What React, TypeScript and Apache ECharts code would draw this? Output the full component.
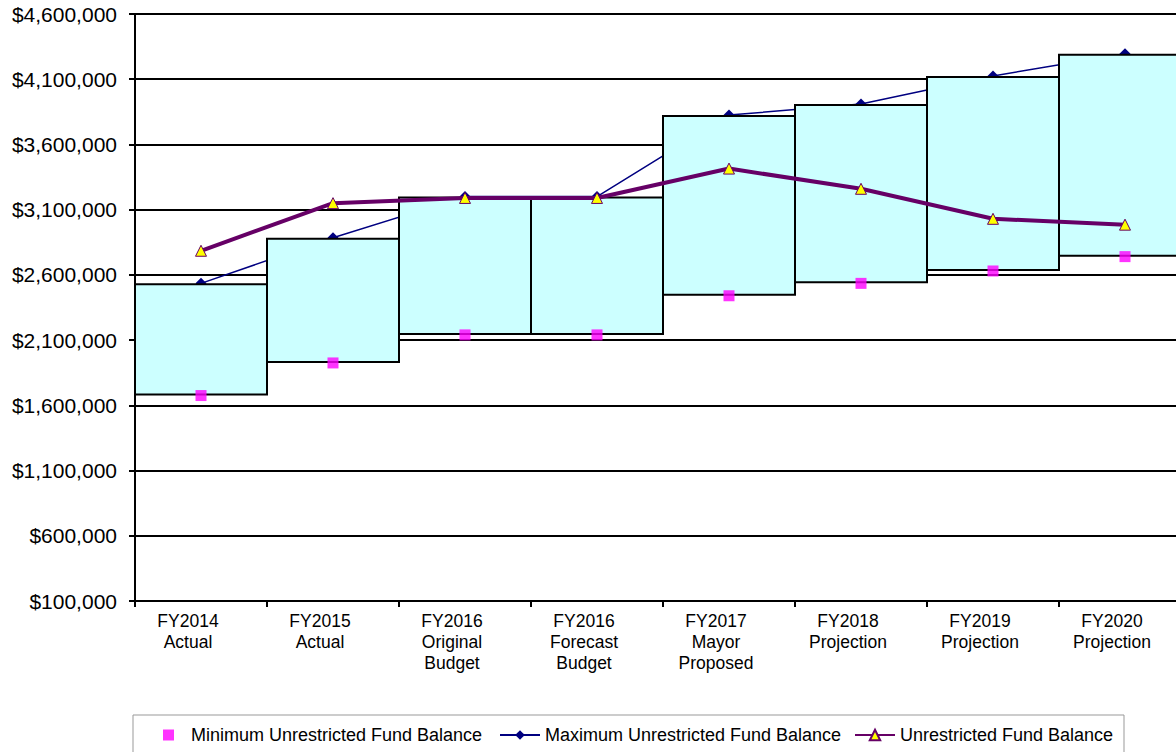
import React, { useEffect, useRef } from "react";
import * as echarts from "echarts";

const categories = [
  "FY2014\nActual",
  "FY2015\nActual",
  "FY2016\nOriginal\nBudget",
  "FY2016\nForecast\nBudget",
  "FY2017\nMayor\nProposed",
  "FY2018\nProjection",
  "FY2019\nProjection",
  "FY2020\nProjection",
];
const minBalance = [1675000, 1925000, 2140000, 2140000, 2440000, 2535000, 2630000, 2740000];
const maxBalance = [2535000, 2885000, 3200000, 3200000, 3825000, 3910000, 4125000, 4295000];
const unrestricted = [2785000, 3150000, 3190000, 3190000, 3415000, 3260000, 3030000, 2985000];

const MIN_NAME = "Minimum Unrestricted Fund Balance";
const MAX_NAME = "Maximum Unrestricted Fund Balance";
const UNR_NAME = "Unrestricted Fund Balance";

const FONT = "Liberation Sans, Arial, sans-serif";

function fmt(v: number): string {
  return "$" + String(v).replace(/\B(?=(\d{3})+(?!\d))/g, ",");
}

export default function App() {
  const ref = useRef<HTMLDivElement>(null);
  useEffect(() => {
    if (!ref.current) return;
    const chart = echarts.init(ref.current, undefined, { renderer: "svg" });
    const boxHeights = maxBalance.map((m, i) => m - minBalance[i]);
    chart.setOption({
      animation: false,
      backgroundColor: "#ffffff",
      textStyle: { fontFamily: FONT },
      grid: {
        left: 135,
        top: 14,
        width: 1056,
        height: 587,
        containLabel: false,
        outerBoundsMode: "none",
      },
      xAxis: {
        type: "category",
        data: categories,
        boundaryGap: true,
        axisLine: { show: true, lineStyle: { color: "#000", width: 2 } },
        axisTick: { show: true, length: 6, lineStyle: { color: "#000", width: 2 } },
        axisLabel: {
          interval: 0,
          fontSize: 17.5,
          lineHeight: 21,
          color: "#000",
          fontFamily: FONT,
          margin: 9,
          padding: [0, 26, 0, 0],
        },
        splitLine: { show: false },
      },
      yAxis: {
        type: "value",
        min: 100000,
        max: 4600000,
        interval: 500000,
        axisLine: { show: true, lineStyle: { color: "#000", width: 2 } },
        axisTick: { show: true, length: 6, lineStyle: { color: "#000", width: 2 } },
        axisLabel: {
          formatter: (v: number) => fmt(v),
          fontSize: 21,
          color: "#000",
          fontFamily: FONT,
          margin: 18,
        },
        splitLine: { show: true, lineStyle: { color: "#000", width: 2 } },
      },
      legend: [
        {
          data: [{ name: MIN_NAME, icon: "rect" }],
          left: 163,
          top: 726,
          padding: 0,
          itemWidth: 11,
          itemHeight: 11,
          textStyle: { fontSize: 18, color: "#000", fontFamily: FONT, padding: [0, 0, 0, 12] },
        },
        {
          data: [MAX_NAME],
          left: 499,
          top: 726,
          padding: 0,
          itemWidth: 40,
          itemHeight: 12,
          textStyle: { fontSize: 18, color: "#000", fontFamily: FONT },
        },
        {
          data: [UNR_NAME],
          left: 854,
          top: 726,
          padding: 0,
          itemWidth: 40,
          itemHeight: 13,
          textStyle: { fontSize: 18, color: "#000", fontFamily: FONT },
        },
      ],
      graphic: [
        {
          type: "rect",
          shape: { x: 133, y: 715, width: 991, height: 60 },
          style: { fill: "none", stroke: "#999", lineWidth: 1 },
          silent: true,
        },
      ],
      series: [
        {
          name: "base",
          type: "bar",
          stack: "box",
          data: minBalance,
          itemStyle: { color: "transparent" },
          barWidth: 134,
          silent: true,
          z: 2,
        },
        {
          name: "range",
          type: "bar",
          stack: "box",
          data: boxHeights,
          itemStyle: { color: "#CCFFFF", borderColor: "#000", borderWidth: 2 },
          barWidth: 134,
          silent: true,
          z: 2,
        },
        {
          name: MAX_NAME,
          type: "line",
          data: maxBalance,
          symbol: "diamond",
          symbolSize: 11,
          lineStyle: { color: "#000080", width: 1.5 },
          itemStyle: { color: "#000080" },
          z: 1,
        },
        {
          name: UNR_NAME,
          type: "line",
          data: unrestricted,
          symbol: "triangle",
          symbolSize: 11,
          lineStyle: { color: "#660066", width: 4 },
          itemStyle: { color: "#FFFF00", borderColor: "#660066", borderWidth: 1 },
          z: 3,
        },
        {
          name: MIN_NAME,
          type: "scatter",
          data: minBalance,
          symbol: "rect",
          symbolSize: 11,
          itemStyle: { color: "#FF00FF" },
          z: 4,
        },
      ],
    });
    return () => chart.dispose();
  }, []);
  return (
    <div
      ref={ref}
      style={{ position: "absolute", left: 0, top: 0, width: 1176, height: 752, background: "#fff" }}
    />
  );
}
